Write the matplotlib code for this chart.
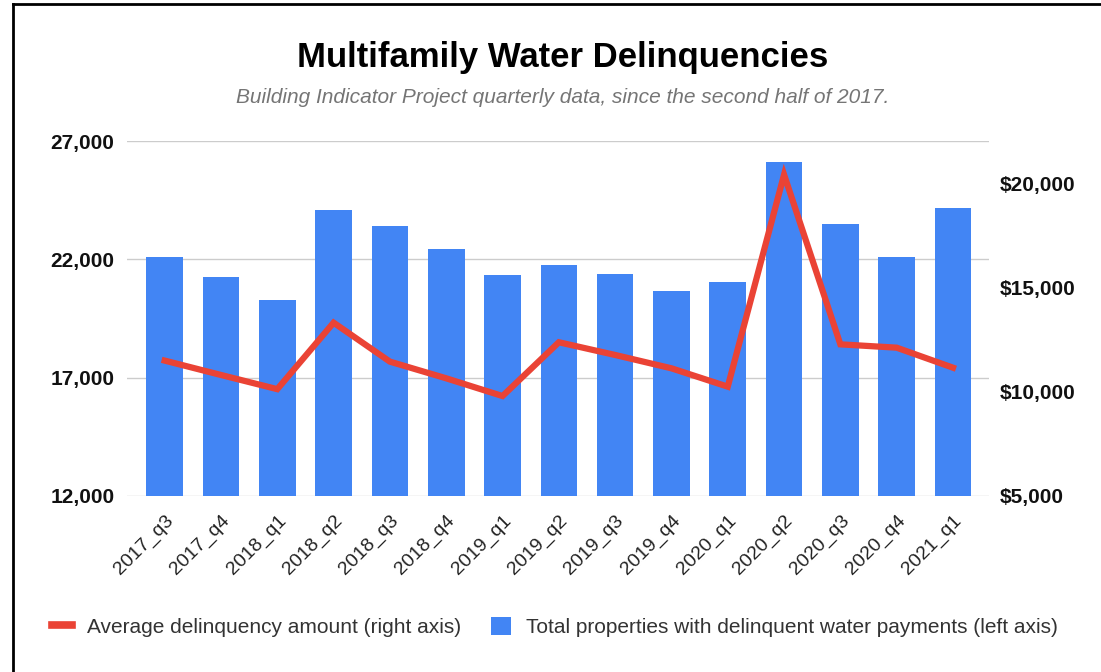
import numpy as np
import matplotlib.pyplot as plt
from matplotlib.lines import Line2D
from matplotlib.patches import Patch
from matplotlib.ticker import FuncFormatter

plt.rcParams['font.family'] = ['Liberation Sans', 'DejaVu Sans']

quarters = ["2017_q3", "2017_q4", "2018_q1", "2018_q2", "2018_q3", "2018_q4",
            "2019_q1", "2019_q2", "2019_q3", "2019_q4", "2020_q1", "2020_q2",
            "2020_q3", "2020_q4", "2021_q1"]
properties = [22090, 21270, 20290, 24100, 23420, 22460, 21330, 21780,
              21400, 20670, 21030, 26110, 23500, 22090, 24170]
avg_amount = [11480, 10790, 10110, 13300, 11430, 10630, 9780, 12360,
              11750, 11110, 10230, 20400, 12260, 12100, 11140]

blue = "#4285F4"
red = "#EA4335"

fig = plt.figure(figsize=(11.01, 6.72), dpi=100)
ax = fig.add_axes([0.1153, 0.2624, 0.7830, 0.5273])
ax2 = ax.twinx()

x = np.arange(len(quarters))
ax.bar(x, properties, width=0.65, color=blue, zorder=2)
ax.set_ylim(12000, 27000)
ax.set_yticks([12000, 17000, 22000, 27000])
ax.yaxis.set_major_formatter(FuncFormatter(lambda v, p: f"{int(v):,}"))
ax.grid(axis='y', color='#cccccc', linewidth=1, zorder=0)
ax.set_axisbelow(True)
ax.set_xlim(-0.67, len(quarters) - 0.36)
ax.set_xticks(x)
ax.set_xticklabels(quarters, rotation=45, ha='right', rotation_mode='anchor',
                   fontsize=14, color='#222222')

ax2.plot(x, avg_amount, color=red, linewidth=4.5, zorder=3, solid_joinstyle='miter')
ax2.set_ylim(5000, 22000)
ax2.set_yticks([5000, 10000, 15000, 20000])
ax2.yaxis.set_major_formatter(FuncFormatter(lambda v, p: f"${int(v):,}"))

for a in (ax, ax2):
    for s in a.spines.values():
        s.set_visible(False)
    a.tick_params(length=0)
for lab in ax.get_yticklabels() + ax2.get_yticklabels():
    lab.set_fontweight('bold')
    lab.set_fontsize(15)
    lab.set_color('#111111')
ax.tick_params(axis='y', pad=9)
ax2.tick_params(axis='y', pad=8)
ax.tick_params(axis='x', pad=12)

fig.text(0.511, 0.914, "Multifamily Water Delinquencies", ha='center', va='center',
         fontsize=25, fontweight='bold', color='#000000')
fig.text(0.511, 0.855, "Building Indicator Project quarterly data, since the second half of 2017.",
         ha='center', va='center', fontsize=15, style='italic', color='#757575')

handles = [Line2D([0], [0], color=red, linewidth=5.5),
           Patch(facecolor=blue)]
labels = ["Average delinquency amount (right axis)",
          "Total properties with delinquent water payments (left axis)"]
fig.legend(handles, labels, loc='center', bbox_to_anchor=(0.504, 0.067), ncol=2,
           frameon=False, fontsize=15, handlelength=0.95, handleheight=0.95,
           handletextpad=0.7, columnspacing=1.45, labelcolor='#333333')

# screenshot border on top and left
fig.add_artist(Line2D([0.012, 0.012], [0, 0.994], color='black', linewidth=2))
fig.add_artist(Line2D([0.012, 1], [0.994, 0.994], color='black', linewidth=2))

fig.savefig("out.png", dpi=100)
